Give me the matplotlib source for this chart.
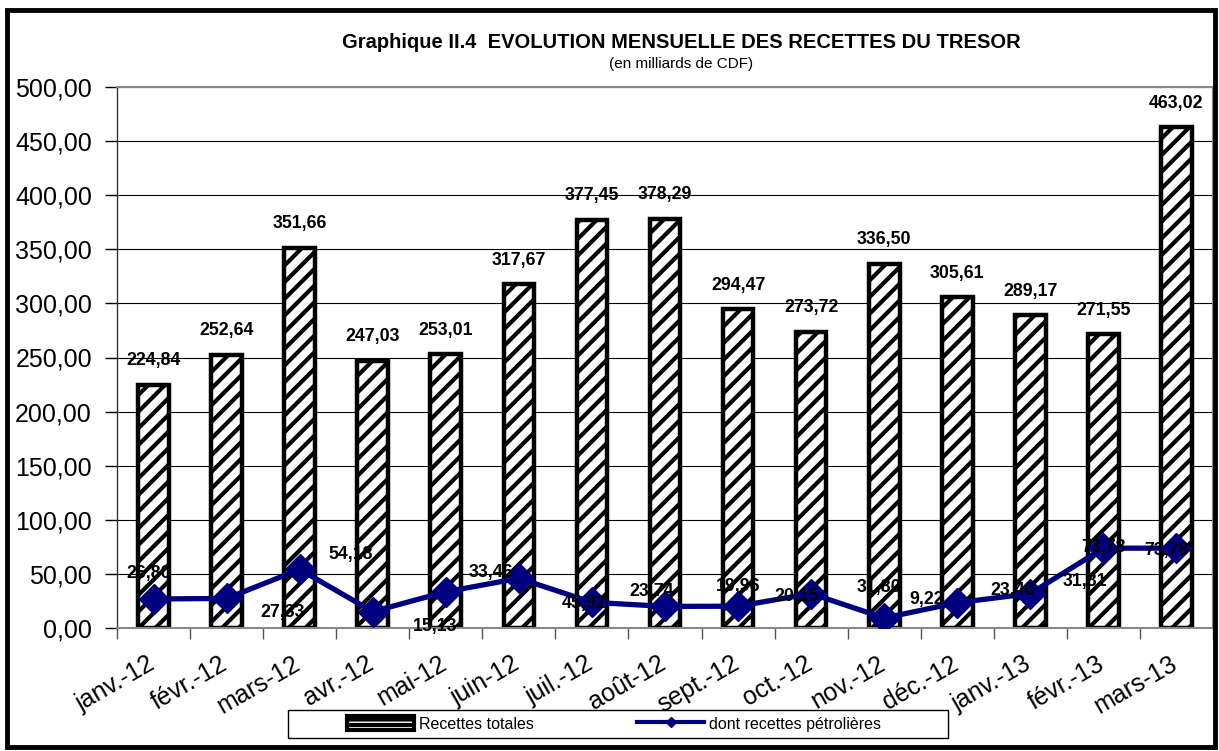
import matplotlib
matplotlib.use("Agg")
import matplotlib.pyplot as plt
import matplotlib.patches as mpatches
import matplotlib.transforms as mtransforms
from matplotlib.lines import Line2D
from matplotlib.ticker import FuncFormatter, MultipleLocator
import numpy as np

# data
mois = ["janv.-12", "févr.-12", "mars-12", "avr.-12", "mai-12", "juin-12", "juil.-12",
        "août-12", "sept.-12", "oct.-12", "nov.-12", "déc.-12", "janv.-13", "févr.-13", "mars-13"]
recettes_totales = [224.84, 252.64, 351.66, 247.03, 253.01, 317.67, 377.45, 378.29,
                    294.47, 273.72, 336.50, 305.61, 289.17, 271.55, 463.02]
recettes_petrolieres = [26.80, 27.33, 54.18, 15.13, 33.46, 45.92, 23.74, 19.96,
                        20.15, 31.80, 9.22, 23.40, 31.81, 73.78, 73.78]

# where Excel dropped the line labels (pixel offsets from each point)
lab_dx = [-5, 56, 51, 62, 45, 65, 60, 73, 59, 68, 42, 55, 55, 0, -10]
lab_dy = [26, -14, 15, -15, 19, -25, 11, 20, 10, 6, 19, 12, 12, 1, -2]

plt.rcParams['font.family'] = ['Liberation Sans', 'DejaVu Sans']
plt.rcParams['hatch.linewidth'] = 3.0

W, H = 1219, 751
fig = plt.figure(figsize=(W / 100, H / 100), dpi=100)
ax = fig.add_axes([117 / W, (H - 628) / H, (1213 - 117) / W, (628 - 87) / H])

def fr(v):
    return f"{v:.2f}".replace(".", ",")

x = np.arange(len(mois))
ax.bar(x, recettes_totales, width=0.42, color="white", edgecolor="black",
       linewidth=3.2, hatch="//", zorder=2)
ax.plot(x, recettes_petrolieres, color="#000080", lw=3.8, marker="D",
        markersize=15, zorder=4)

for i, v in enumerate(recettes_totales):
    ax.annotate(fr(v), (x[i], v), xytext=(0, 24), textcoords="offset pixels",
                ha="center", va="center", fontsize=12.8, fontweight="bold", zorder=5)
for i, v in enumerate(recettes_petrolieres):
    ax.annotate(fr(v), (x[i], v), xytext=(lab_dx[i], lab_dy[i]), textcoords="offset pixels",
                ha="center", va="center", fontsize=12.8, fontweight="bold", zorder=5,
                annotation_clip=False)

ax.set_xlim(-0.5, len(mois) - 0.5)
ax.set_ylim(0, 500)
ax.yaxis.set_major_locator(MultipleLocator(50))
ax.yaxis.set_major_formatter(FuncFormatter(lambda v, p: fr(v)))
ax.grid(axis="y", color="black", lw=0.8, zorder=0)
ax.set_axisbelow(True)

ax.set_xticks(x)
ax.set_xticklabels(mois, rotation=30, ha="right", rotation_mode="anchor")
ax.set_xticks(np.arange(-0.5, len(mois)), minor=True)
ax.tick_params(axis="x", which="major", length=0, labelsize=18, pad=17)
ax.tick_params(axis="x", which="minor", length=8, width=1, color="#555555", direction="out")
ax.tick_params(axis="y", length=9, width=1, labelsize=18, pad=9)
shift = mtransforms.ScaledTranslation(-7 / 100, 0, fig.dpi_scale_trans)
for lab in ax.get_xticklabels():
    lab.set_transform(lab.get_transform() + shift)

for s in ["top", "right", "bottom"]:
    ax.spines[s].set_color("#888888")
    ax.spines[s].set_linewidth(1.5)
ax.spines["left"].set_color("#333333")
ax.spines["left"].set_linewidth(1)

fig.text(681 / W, 1 - 42 / H, "Graphique II.4  EVOLUTION MENSUELLE DES RECETTES DU TRESOR",
         ha="center", va="center", fontsize=14.5, fontweight="bold")
fig.text(681 / W, 1 - 64 / H, "(en milliards de CDF)", ha="center", va="center", fontsize=11)

# legend
h1 = mpatches.Patch(facecolor="white", edgecolor="black", linewidth=3, hatch="---")
h2 = Line2D([], [], color="#000080", lw=3, marker="D", markersize=5)
fig.legend([h1, h2], ["Recettes totales", "dont recettes pétrolières"], loc="center",
           bbox_to_anchor=(614 / W, 1 - 724 / H), ncol=2, frameon=False, fontsize=11.5,
           handlelength=4.2, handleheight=1.0, handletextpad=0.3, columnspacing=6.5)
fig.add_artist(mpatches.Rectangle((288 / W, 1 - 738 / H), (948 - 288) / W, 28 / H,
                                  transform=fig.transFigure, fill=False,
                                  edgecolor="black", lw=1))

# outer frame
fig.add_artist(mpatches.Rectangle((7 / W, 1 - 747 / H), (1215 - 7) / W, (747 - 10) / H,
                                  transform=fig.transFigure, fill=False,
                                  edgecolor="black", lw=3.5))

fig.savefig("out.png", dpi=100)
